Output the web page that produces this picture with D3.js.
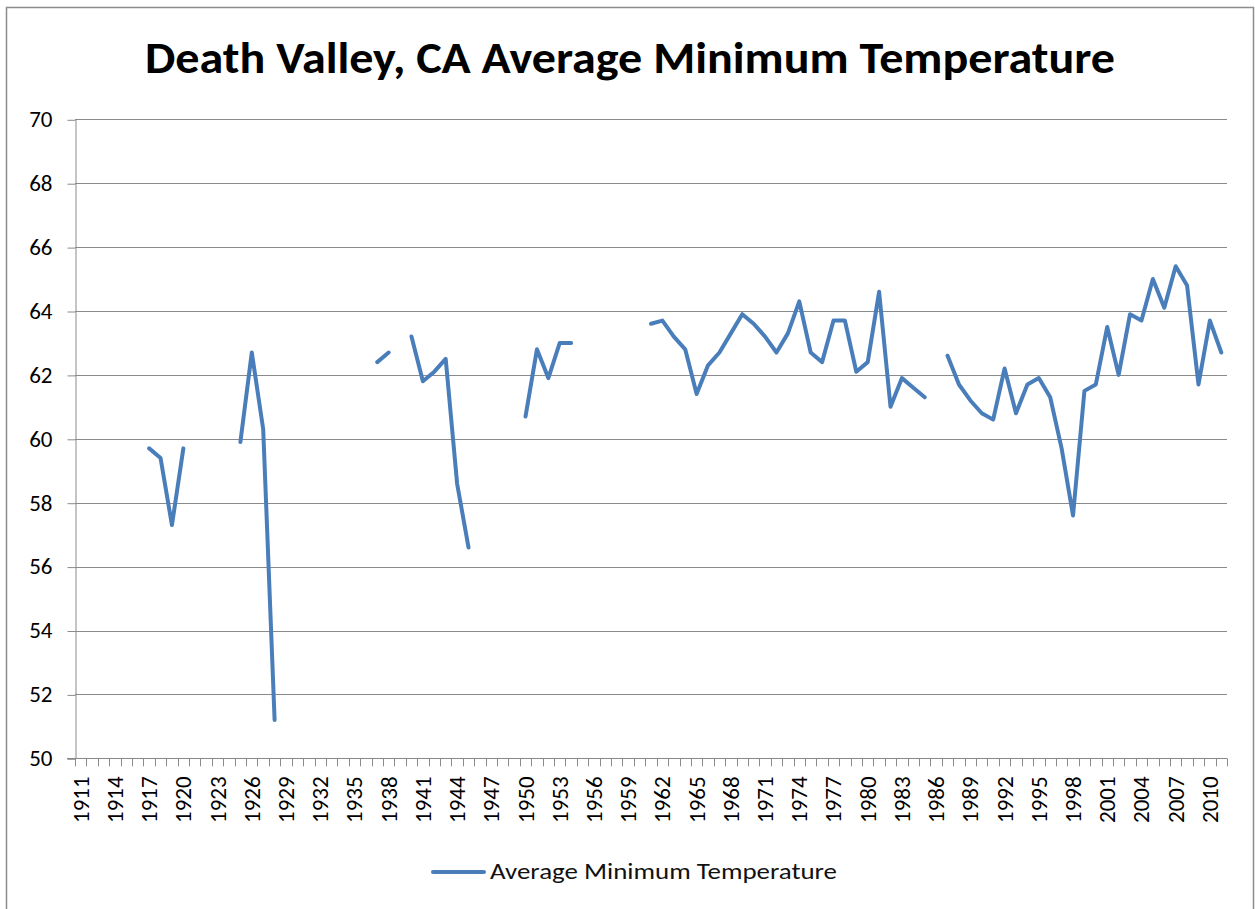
<!DOCTYPE html>
<html>
  <head>
    <meta charset="utf-8">
    <title>Death Valley, CA Average Minimum Temperature</title>
    <style>
      body { margin: 0; background: #fff; }
      text { font-family: Carlito, Calibri, Lato, sans-serif; }
    </style>
  </head>
  <body>
    <script src="https://cdn.jsdelivr.net/npm/d3@7"></script>
    <script>
      // categories: one per year, 1911 - 2011
      var years = d3.range(1911, 2012);
      var labelYears = years.filter(function(y){ return (y - 1911) % 3 === 0; });
      var yTicks = [50, 52, 54, 56, 58, 60, 62, 64, 66, 68, 70];

      // average minimum temperature (°F), null = no data that year
      var avgMin = [
        null, null, null, null, null, null,          // 1911-1916
        59.7, 59.4, 57.3, 59.7,                      // 1917-1920
        null, null, null, null,                      // 1921-1924
        59.9, 62.7, 60.3, 51.2,                      // 1925-1928
        null, null, null, null, null, null, null, null, // 1929-1936
        62.4, 62.7,                                  // 1937-1938
        null,                                        // 1939
        63.2, 61.8, 62.1, 62.5, 58.6, 56.6,          // 1940-1945
        null, null, null, null,                      // 1946-1949
        60.7, 62.8, 61.9, 63.0, 63.0,                // 1950-1954
        null, null, null, null, null, null,          // 1955-1960
        63.6, 63.7, 63.2, 62.8, 61.4, 62.3, 62.7, 63.3, 63.9, 63.6, // 1961-1970
        63.2, 62.7, 63.3, 64.3, 62.7, 62.4, 63.7, 63.7, 62.1, 62.4, // 1971-1980
        64.6, 61.0, 61.9, 61.6, 61.3,                // 1981-1985
        null,                                        // 1986
        62.6, 61.7, 61.2, 60.8, 60.6, 62.2, 60.8, 61.7, 61.9, 61.3, // 1987-1996
        59.7, 57.6, 61.5, 61.7, 63.5, 62.0, 63.9, 63.7, 65.0, 64.1, // 1997-2006
        65.4, 64.8, 61.7, 63.7, 62.7                 // 2007-2011
      ];

      var W = 1255, H = 909;
      var plotL = 75, plotR = 1227, plotT = 119.3, plotB = 758.3;

      var svg = d3.select('body').append('svg').attr('width', W).attr('height', H);

      // chart frame
      svg.append('rect')
        .attr('x', 6.5).attr('y', 7.5)
        .attr('width', 1247).attr('height', 920)
        .attr('fill', '#fff')
        .attr('stroke', '#8c8c8c')
        .attr('stroke-width', 1.5);

      var x = d3.scaleBand().domain(years).range([plotL, plotR]).padding(0);
      var y = d3.scaleLinear().domain([50, 70]).range([plotB, plotT]);

      // horizontal gridlines
      svg.append('g').selectAll('line')
        .data(yTicks.slice(1))
        .enter().append('line')
        .attr('x1', plotL).attr('x2', plotR)
        .attr('y1', function(d){ return Math.round(y(d)) + 0.5; })
        .attr('y2', function(d){ return Math.round(y(d)) + 0.5; })
        .attr('stroke', '#8a8a8a')
        .attr('stroke-width', 1);

      // y axis
      var yAxis = svg.append('g')
        .attr('transform', 'translate(' + (plotL + 0.5) + ',0)')
        .call(d3.axisLeft(y).tickValues(yTicks).tickSize(8).tickPadding(15).tickSizeOuter(0));
      yAxis.select('.domain').attr('stroke', '#8a8a8a');
      yAxis.selectAll('.tick line').attr('stroke', '#8a8a8a')
        .attr('transform', 'translate(0,0.5)');
      yAxis.selectAll('.tick text')
        .attr('font-size', 23)
        .attr('fill', '#000')
        .attr('font-family', 'Carlito, Calibri, Lato, sans-serif');

      // x axis line and category tick marks (between categories)
      var xg = svg.append('g');
      xg.append('line')
        .attr('x1', plotL - 8).attr('x2', plotR)
        .attr('y1', Math.round(plotB) + 0.5).attr('y2', Math.round(plotB) + 0.5)
        .attr('stroke', '#8a8a8a');
      var edges = years.map(function(d){ return x(d); }).concat([plotR]);
      xg.selectAll('line.tk')
        .data(edges)
        .enter().append('line')
        .attr('class', 'tk')
        .attr('x1', function(d){ return Math.round(d) + 0.5; })
        .attr('x2', function(d){ return Math.round(d) + 0.5; })
        .attr('y1', plotB).attr('y2', plotB + 8)
        .attr('stroke', '#8a8a8a');

      // rotated year labels
      xg.selectAll('text')
        .data(labelYears)
        .enter().append('text')
        .attr('transform', function(d){
          return 'translate(' + (x(d) + x.bandwidth() / 2 + 8) + ',' + (plotB + 18) + ') rotate(-90)';
        })
        .attr('text-anchor', 'end')
        .attr('font-size', 23)
        .attr('fill', '#000')
        .text(function(d){ return d; });

      // the series line, broken where data is missing
      var line = d3.line()
        .defined(function(d){ return d != null; })
        .x(function(d, i){ return x(years[i]) + x.bandwidth() / 2; })
        .y(function(d){ return y(d); });

      svg.append('path')
        .datum(avgMin)
        .attr('d', line)
        .attr('fill', 'none')
        .attr('stroke', '#4a7ebb')
        .attr('stroke-width', 4)
        .attr('stroke-linejoin', 'round')
        .attr('stroke-linecap', 'round');

      // title
      svg.append('text')
        .attr('x', 630).attr('y', 73)
        .attr('text-anchor', 'middle')
        .attr('font-size', 44)
        .attr('font-weight', 'bold')
        .attr('fill', '#000')
        .attr('textLength', 970)
        .attr('lengthAdjust', 'spacingAndGlyphs')
        .text('Death Valley, CA Average Minimum Temperature');

      // legend
      var lg = svg.append('g');
      lg.append('line')
        .attr('x1', 433).attr('x2', 484)
        .attr('y1', 872).attr('y2', 872)
        .attr('stroke', '#4a7ebb')
        .attr('stroke-width', 4)
        .attr('stroke-linecap', 'round');
      lg.append('text')
        .attr('x', 490).attr('y', 879)
        .attr('font-size', 22)
        .attr('fill', '#111')
        .attr('textLength', 347)
        .attr('lengthAdjust', 'spacingAndGlyphs')
        .text('Average Minimum Temperature');
    </script>
  </body>
</html>
